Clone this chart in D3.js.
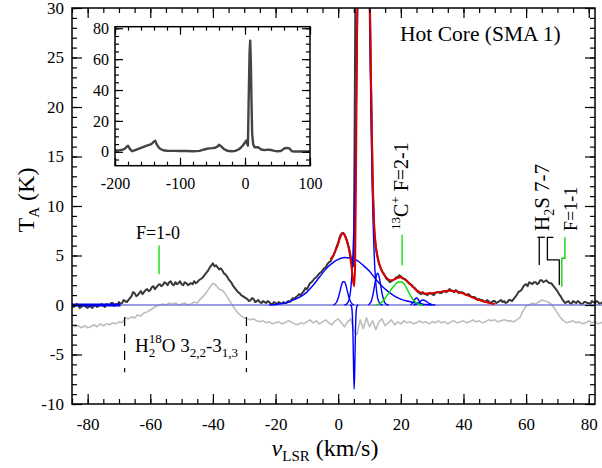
<!DOCTYPE html>
<html>
<head>
<meta charset="utf-8">
<script src="https://cdn.jsdelivr.net/npm/d3@7"></script>
<style>
  body { margin: 0; background: #fff; }
  text { font-family: "Liberation Serif", "Times New Roman", serif; fill: #000; }
</style>
</head>
<body>
<svg id="chart" width="602" height="468"></svg>
<script>
// observed spectrum, [v_LSR km/s, T_A K]
const observed = [
  [-85,0.1],[-84.5,-0.2],[-84,-0.1],[-83.5,0.1],[-83,0.0],[-82.5,-0.3],[-82,-0.2],[-81.5,0.0],[-81,-0.1],[-80.5,-0.2],
  [-80,-0.3],[-79.5,-0.1],[-79,-0.2],[-78.5,-0.3],[-78,-0.1],[-77.5,0.0],[-77,-0.2],[-76.5,-0.1],[-76,0.0],[-75.5,0.1],
  [-75,-0.1],[-74.5,-0.2],[-74,0.1],[-73.5,0.0],[-73,0.0],[-72.5,0.2],[-72,0.2],[-71.5,-0.1],[-71,0.1],[-70.5,0.0],
  [-70,0.3],[-69.5,0.1],[-69,0.2],[-68.5,0.5],[-68,0.4],[-67.5,0.3],[-67,0.5],[-66.5,0.7],[-66,0.9],[-65.5,1.3],
  [-65,1.2],[-64.5,0.9],[-64,1.0],[-63.5,1.2],[-63,1.4],[-62.5,1.1],[-62,1.3],[-61.5,1.5],[-61,1.6],[-60.5,1.4],
  [-60,1.5],[-59.5,1.8],[-59,1.9],[-58.5,1.6],[-58,1.8],[-57.5,2.0],[-57,2.1],[-56.5,1.9],[-56,2.0],[-55.5,2.3],
  [-55,2.2],[-54.5,2.0],[-54,2.3],[-53.5,2.4],[-53,2.1],[-52.5,2.0],[-52,2.3],[-51.5,2.1],[-51,2.2],[-50.5,2.4],
  [-50,2.1],[-49.5,2.0],[-49,2.3],[-48.5,2.2],[-48,2.0],[-47.5,2.1],[-47,2.2],[-46.5,2.1],[-46,2.4],[-45.5,2.2],
  [-45,2.3],[-44.5,2.5],[-44,2.6],[-43.5,2.7],[-43,2.9],[-42.5,3.1],[-42,3.3],[-41.5,3.5],[-41,3.8],[-40.5,4.0],
  [-40,4.2],[-39.5,3.9],[-39,4.0],[-38.5,3.8],[-38,3.6],[-37.5,3.7],[-37,3.5],[-36.5,3.2],[-36,3.1],[-35.5,2.9],
  [-35,2.6],[-34.5,2.4],[-34,2.2],[-33.5,1.9],[-33,1.7],[-32.5,1.5],[-32,1.3],[-31.5,1.2],[-31,1.0],[-30.5,0.9],
  [-30,0.8],[-29.5,0.7],[-29,0.6],[-28.5,0.4],[-28,0.5],[-27.5,0.7],[-27,0.6],[-26.5,0.3],[-26,0.4],[-25.5,0.5],
  [-25,0.3],[-24.5,0.2],[-24,0.4],[-23.5,0.3],[-23,0.2],[-22.5,0.4],[-22,0.3],[-21.5,0.1],[-21,0.1],[-20.5,0.3],
  [-20,0.2],[-19.5,0.1],[-19,0.3],[-18.5,0.2],[-18,0.1],[-17.5,0.3],[-17,0.2],[-16.5,0.2],[-16,0.4],[-15.5,0.3],
  [-15,0.5],[-14.5,0.7],[-14,0.6],[-13.5,0.8],[-13,0.9],[-12.5,1.1],[-12,1.0],[-11.5,1.2],[-11,1.4],[-10.5,1.7],
  [-10,1.6],[-9.5,1.9],[-9,2.2],[-8.5,2.3],[-8,2.5],[-7.5,2.7],[-7,2.8],[-6.5,3.0],[-6,3.2],[-5.5,3.3],
  [-5,3.5],[-4.5,3.7],[-4,3.8],[-3.5,4.1],[-3,4.3],[-2.5,4.4],[-2,4.7],[-1.5,5.0],[-1,5.4],[-0.5,5.9],
  [0,6.3],[0.5,6.9],[1,7.2],[1.5,7.3],[2,7.1],[2.5,6.8],[3,6.3],[3.5,5.7],[4,4.9],[4.5,4.3],
  [5,3.9],[5.5,32],[6,46],[6.5,57],[7,65],[7.5,70],[8,72],[8.5,68],[9,58],[9.5,46],
  [10,33],[10.5,22],[11,12],[11.5,7.5],[12,5.8],[12.5,4.9],[13,4.2],[13.5,3.8],[14,3.4],[14.5,3.2],
  [15,2.9],[15.5,2.6],[16,2.5],[16.5,2.3],[17,2.4],[17.5,2.5],[18,2.6],[18.5,2.8],[19,2.8],[19.5,3.0],
  [20,2.9],[20.5,2.7],[21,2.6],[21.5,2.6],[22,2.4],[22.5,2.2],[23,2.1],[23.5,2.0],[24,1.8],[24.5,1.7],
  [25,1.5],[25.5,1.3],[26,1.2],[26.5,1.1],[27,1.3],[27.5,1.1],[28,1.1],[28.5,1.0],[29,1.2],[29.5,1.2],
  [30,1.1],[30.5,1.0],[31,1.2],[31.5,1.3],[32,1.3],[32.5,1.2],[33,1.2],[33.5,1.4],[34,1.4],[34.5,1.3],
  [35,1.4],[35.5,1.6],[36,1.5],[36.5,1.4],[37,1.3],[37.5,1.5],[38,1.4],[38.5,1.2],[39,1.3],[39.5,1.3],
  [40,1.2],[40.5,1.1],[41,1.0],[41.5,1.1],[42,1.0],[42.5,0.8],[43,0.8],[43.5,0.8],[44,0.7],[44.5,0.5],
  [45,0.6],[45.5,0.5],[46,0.5],[46.5,0.4],[47,0.3],[47.5,0.5],[48,0.4],[48.5,0.2],[49,0.3],[49.5,0.4],
  [50,0.4],[50.5,0.2],[51,0.3],[51.5,0.4],[52,0.5],[52.5,0.3],[53,0.4],[53.5,0.2],[54,0.3],[54.5,0.5],
  [55,0.5],[55.5,0.4],[56,0.6],[56.5,0.8],[57,1.0],[57.5,1.3],[58,1.4],[58.5,1.5],[59,1.8],[59.5,2.0],
  [60,2.1],[60.5,1.9],[61,2.3],[61.5,2.2],[62,2.1],[62.5,2.3],[63,2.3],[63.5,2.1],[64,2.2],[64.5,2.5],
  [65,2.5],[65.5,2.3],[66,2.4],[66.5,2.5],[67,2.3],[67.5,2.2],[68,2.2],[68.5,2.0],[69,1.8],[69.5,1.6],
  [70,1.4],[70.5,1.1],[71,0.9],[71.5,0.6],[72,0.4],[72.5,0.2],[73,0.3],[73.5,0.4],[74,0.2],[74.5,0.1],
  [75,0.4],[75.5,0.3],[76,0.2],[76.5,0.4],[77,0.3],[77.5,0.1],[78,0.1],[78.5,0.3],[79,0.3],[79.5,0.2],
  [80,0.2],[80.5,0.1],[81,0.4],[81.5,0.3],[82,0.2],[82.5,0.4],[83,0.3],[83.5,0.1],[84,0.2],[84.5,0.3],
  [85,0.3]
]

// residual (offset by -2 K), one value per 1 km/s channel from -85 to 85
const residualVel = d3.range(-85, 86)
const residualTa = [
  -2.0,-2.2,-2.1,-2.3,-2.1,-2.3,-2.2,-2.0,-2.2,-1.9,
  -2.1,-1.9,-2.0,-1.8,-1.9,-1.7,-1.8,-1.3,-1.4,-1.2,
  -1.3,-1.0,-1.1,-0.8,-0.7,-0.5,-0.3,-0.1,0.0,0.1,
  0.0,0.2,0.1,0.2,0.0,0.1,0.2,0.0,0.1,0.3,
  0.2,0.6,0.9,1.3,1.8,2.2,2.0,1.6,1.5,1.1,
  0.6,0.1,-0.4,-0.8,-1.1,-1.3,-1.4,-1.5,-1.4,-1.6,
  -1.7,-1.6,-1.8,-1.7,-1.9,-1.8,-1.7,-1.9,-1.8,-1.6,
  -1.7,-1.9,-2.0,-1.8,-1.9,-1.7,-1.5,-1.8,-1.6,-1.9,
  -1.7,-1.5,-1.8,-2.0,-1.6,-1.4,-1.8,-2.2,-1.7,-1.4,
  -2.6,-3.0,-1.5,-2.4,-1.3,-2.2,-1.6,-2.5,-1.7,-1.4,
  -2.1,-1.8,-1.5,-2.0,-1.7,-1.9,-1.6,-1.8,-1.7,-1.9,
  -1.8,-1.6,-1.8,-1.7,-1.9,-1.7,-1.8,-1.6,-1.8,-1.7,
  -1.9,-1.7,-1.6,-1.8,-1.7,-1.6,-1.8,-1.7,-1.5,-1.7,
  -1.6,-1.8,-1.7,-1.5,-1.6,-1.5,-1.7,-1.6,-1.5,-1.6,
  -1.6,-1.7,-1.5,-1.3,-0.6,-0.1,0.0,0.2,0.1,0.3,
  0.5,0.4,0.3,0.1,-0.3,-0.8,-1.3,-1.6,-1.8,-1.7,
  -1.6,-1.8,-1.7,-1.9,-1.8,-1.6,-1.8,-1.7,-1.9,-1.8,
  -1.7
]

// total fit
const fitTotal = [
  [-2.5,4.6],[-2,4.8],[-1,5.4],[0,6.2],[0.5,6.7],[1,7.1],[1.5,7.25],[2,7.1],[2.5,6.7],[3,6.2],
  [3.5,5.5],[4,4.5],[4.5,3.2],[4.8,2.3],[5.1,1.9],[5.4,4],[5.7,14],[6,27],[6.5,45],[7,60],
  [7.5,68],[8,71],[8.5,67],[9,57],[9.5,45],[10,33],[10.5,22],[11,13],[11.5,8],[12,6],
  [12.5,5.0],[13,4.3],[14,3.4],[15,2.9],[16,2.6],[17,2.5],[18,2.6],[19,2.75],[20,2.8],[21,2.65],
  [22,2.4],[23,2.1],[24,1.8],[25,1.5],[26,1.3],[27,1.2],[28,1.15],[29,1.15],[30,1.2],[31,1.25],
  [32,1.3],[33,1.35],[34,1.4],[35,1.45],[36,1.45],[37,1.4],[38,1.35],[39,1.25],[40,1.15],[41,1.0],
  [42,0.9],[43,0.75],[44,0.6],[45,0.5],[46,0.4],[47,0.3],[48,0.22],[49,0.15],[50,0.1]
]

// gaussian fit components (blue)
const compBroad = [
  [-22,0],[-20,0.05],[-18,0.15],[-16,0.3],[-14,0.55],[-12,0.85],[-10,1.3],[-8,2.0],[-6,2.8],[-4,3.6],
  [-2,4.2],[0,4.6],[2,4.8],[4,4.75],[6,4.5],[8,4.0],[10,3.4],[12,2.6],[14,1.9],[16,1.35],
  [18,0.9],[20,0.6],[22,0.4],[24,0.25],[26,0.15],[28,0.05],[30,0]
]
const compNarrow = [
  [-1.5,0],[-1,0.1],[-0.5,0.3],[0,0.7],[0.5,1.3],[1,1.95],[1.5,2.35],[2,2.35],[2.5,1.95],[3,1.3],
  [3.5,0.7],[4,0.3],[4.5,0.1],[5,0]
]
const compAbsorb = [
  [3.8,0],[4.2,-0.1],[4.5,-0.9],[4.7,-2.8],[4.9,-6.2],[5.1,-8.5],[5.3,-6.2],[5.5,-2.8],[5.7,-0.9],[6.0,-0.1],[6.4,0]
]
const compMain = [
  [2,0],[2.6,0.07],[3.1,0.26],[3.6,0.7],[4.1,1.9],[4.6,4.3],[5.1,9.0],[5.6,16.5],[6.1,27],[6.6,40],
  [7.1,52.8],[7.6,62.4],[8.1,66],[8.6,62.4],[9.1,52.8],[9.6,40],[10.1,27],[10.6,16.5],[11.1,9.0],[11.6,4.3],
  [12.1,1.9],[12.6,0.7],[13.1,0.26],[13.6,0.07],[14.2,0]
]
const compRed12 = [
  [9.6,0.04],[10.1,0.14],[10.6,0.43],[11.1,1.04],[11.6,1.94],[12.1,2.82],[12.6,3.2],[13.1,2.82],[13.6,1.94],[14.1,1.04],
  [14.6,0.43],[15.1,0.14],[15.6,0.04],[16.2,0]
]
const compSmall1 = [[23,0.03],[23.5,0.12],[24,0.32],[24.5,0.58],[25,0.7],[25.5,0.58],[26,0.32],[26.5,0.12],[27,0.03],[27.5,0]]
const compSmall2 = [[24,0.02],[25,0.09],[26,0.3],[27,0.5],[28,0.4],[29,0.16],[30,0.04],[31,0]]
// 13C+ F=2-1 component (green)
const comp13C = [
  [12,0],[13,0.1],[14,0.3],[15,0.7],[16,1.15],[17,1.6],[18,2.0],[19,2.3],[20,2.35],[21,2.15],
  [22,1.6],[23,1.0],[24,0.5],[25,0.2],[26,0.05],[27,0]
]
// baseline window
const baseWindow = [[-85,0],[-69.5,0]]

// line markers
const markF10 = [[-57.2,3.1],[-57.2,6.0]]
const mark13C = [[20.4,4.0],[20.4,7.1]]
const markH2Sa = [[63.6,6.84],[66.0,6.84]]
const markH2Sb = [[64.2,6.84],[64.2,4.04]]
const markH2Sc = [[68.7,6.84],[66.8,6.84],[66.8,4.55],[70.6,4.55],[70.6,2.02]]
const markF11 = [[72.4,6.84],[72.4,4.72],[71.4,4.72],[71.4,1.85]]
const h2oDashes = [-68.2, -29.3]
const h2oDashRange = [-1.2, -6.8]

// full-band spectrum for the inset
const insetSpec = [
  [-200,1.0],[-196,0.8],[-192,1.1],[-188,1.4],[-185,2.0],[-182,3.2],[-180,3.9],[-178,2.6],[-176,1.2],[-173,0.4],
  [-170,0.9],[-166,1.6],[-162,2.2],[-158,2.8],[-154,3.5],[-150,4.1],[-146,4.6],[-143,5.4],[-140,6.6],[-138,7.1],
  [-136,5.0],[-133,3.0],[-130,1.8],[-126,1.0],[-120,0.7],[-110,0.6],[-100,0.5],[-90,0.5],[-80,0.4],[-70,0.6],
  [-65,1.2],[-60,1.8],[-55,2.2],[-50,2.4],[-46,2.6],[-43,3.2],[-40,4.6],[-37,3.6],[-33,2.0],[-29,1.0],
  [-25,0.5],[-20,0.4],[-15,0.6],[-10,1.5],[-6,2.8],[-3,4.2],[0,6.0],[2,7.3],[4.5,4.0],[5.5,30],
  [7,64],[8,72],[9,58],[10,33],[11,12],[12.5,4.9],[15,2.9],[20,2.9],[25,1.5],[30,1.1],
  [35,1.4],[40,1.2],[45,0.6],[50,0.4],[55,0.5],[58,1.4],[61,2.3],[65,2.5],[68,2.2],[70,1.4],
  [72,0.4],[78,0.2],[85,0.3],[92,0.2],[100,0.3]
]

const xTicks = [-80, -60, -40, -20, 0, 20, 40, 60, 80]
const yTicks = [-10, -5, 0, 5, 10, 15, 20, 25, 30]
const insetXTicks = [-200, -100, 0, 100]
const insetYTicks = [0, 20, 40, 60, 80]

const svg = d3.select("#chart")
const frame = { left: 72, right: 595, top: 8, bottom: 404 }
const x = d3.scaleLinear().domain([-85, 82]).range([frame.left, frame.right])
const y = d3.scaleLinear().domain([-10, 30]).range([frame.bottom, frame.top])

svg.append("defs").append("clipPath").attr("id", "plotclip").append("rect")
  .attr("x", frame.left).attr("y", frame.top)
  .attr("width", 602 - frame.left).attr("height", frame.bottom - frame.top)

const lineOf = (xs, ys, curve) => d3.line().x(d => xs(d[0])).y(d => ys(d[1])).curve(curve || d3.curveLinear)
const mainLine = lineOf(x, y)
const smooth = lineOf(x, y, d3.curveMonotoneX)

const plot = svg.append("g").attr("clip-path", "url(#plotclip)")

const draw = (g, d, gen, color, width, dash) => g.append("path")
  .attr("d", gen(d)).attr("fill", "none").attr("stroke", color)
  .attr("stroke-width", width).attr("stroke-linejoin", "round")
  .attr("stroke-dasharray", dash || null)

// spectra
draw(plot, residualVel.map((v, i) => [v, residualTa[i]]), mainLine, "#bdbdbd", 1.6)
draw(plot, observed, mainLine, "#383838", 2)
draw(plot, [[-85, 0], [85, 0]], mainLine, "#7b7bd8", 1.6)
draw(plot, baseWindow, mainLine, "#0000ee", 3)

// fit components
;[compBroad, compNarrow, compAbsorb, compMain, compRed12, compSmall1, compSmall2]
  .forEach(c => draw(plot, c, smooth, "#0000ff", 1.4))
draw(plot, comp13C, smooth, "#00dd00", 1.4)
draw(plot, fitTotal, smooth, "#dd0000", 2)

// line markers
draw(svg, markF10, mainLine, "#00dd00", 1.3)
draw(svg, mark13C, mainLine, "#00dd00", 1.3)
draw(svg, markF11, mainLine, "#00cc00", 1.3)
draw(svg, markH2Sa, mainLine, "#000", 1.3)
draw(svg, markH2Sb, mainLine, "#000", 1.3)
draw(svg, markH2Sc, mainLine, "#000", 1.3)
h2oDashes.forEach(v => draw(svg, h2oDashRange.map(t => [v, t]), mainLine, "#000", 1.2, "9,8"))

// axes with inward ticks on all sides
function ticks(g, gen, transform, values, size, labels, pad, fontSize) {
  const a = g.append("g").attr("transform", transform)
    .call(gen.tickValues(values).tickSize(-size).tickPadding(pad)
      .tickFormat(labels ? d => String(d) : ""))
  a.select(".domain").remove()
  a.selectAll("line").attr("stroke", "#000").attr("stroke-width", 1.2)
  a.attr("font-family", null).attr("font-size", null)
  a.selectAll("text").attr("font-size", fontSize)
}

function frameAxes(g, xs, ys, o) {
  const [l, r] = xs.range(), [b, t] = ys.range()
  ticks(g, d3.axisBottom(xs), `translate(0,${b})`, o.xMinor, o.minor, false, 0, 0)
  ticks(g, d3.axisTop(xs), `translate(0,${t})`, o.xMinor, o.minor, false, 0, 0)
  ticks(g, d3.axisLeft(ys), `translate(${l},0)`, o.yMinor, o.minor, false, 0, 0)
  ticks(g, d3.axisRight(ys), `translate(${r},0)`, o.yMinor, o.minor, false, 0, 0)
  ticks(g, d3.axisBottom(xs), `translate(0,${b})`, o.xMajor, o.major, true, o.xPad, o.font)
  ticks(g, d3.axisTop(xs), `translate(0,${t})`, o.xMajor, o.major, false, 0, 0)
  ticks(g, d3.axisLeft(ys), `translate(${l},0)`, o.yMajor, o.major, true, o.yPad, o.font)
  ticks(g, d3.axisRight(ys), `translate(${r},0)`, o.yMajor, o.major, false, 0, 0)
  g.append("rect").attr("x", l).attr("y", t).attr("width", r - l).attr("height", b - t)
    .attr("fill", "none").attr("stroke", "#000").attr("stroke-width", 1.5)
}

frameAxes(svg, x, y, {
  xMajor: xTicks, xMinor: d3.range(-85, 82, 5),
  yMajor: yTicks, yMinor: d3.range(-10, 31, 1),
  major: 10, minor: 5, xPad: 14, yPad: 8, font: 17
})

// inset
const ix = d3.scaleLinear().domain([-200, 100]).range([115, 310])
const iy = d3.scaleLinear().domain([-9, 81]).range([165.7, 26.7])
const inset = svg.append("g")
inset.append("rect").attr("x", 115).attr("y", 26.7).attr("width", 195).attr("height", 139).attr("fill", "#fff")
inset.append("path").attr("d", lineOf(ix, iy)(insetSpec))
  .attr("fill", "none").attr("stroke", "#444").attr("stroke-width", 2.4).attr("stroke-linejoin", "round")
frameAxes(inset, ix, iy, {
  xMajor: insetXTicks, xMinor: d3.range(-200, 101, 20),
  yMajor: insetYTicks, yMinor: d3.range(-5, 81, 5),
  major: 8, minor: 4, xPad: 12, yPad: 6, font: 16
})

// labels
svg.append("text").attr("x", 400).attr("y", 41).attr("font-size", 21.5).text("Hot Core (SMA 1)")

svg.append("text").attr("x", 158).attr("y", 239).attr("font-size", 18)
  .attr("text-anchor", "middle").text("F=1-0")

const h2o = svg.append("text").attr("x", 135).attr("y", 352).attr("font-size", 19)
h2o.append("tspan").text("H")
h2o.append("tspan").attr("font-size", 13).attr("dy", 5).text("2")
h2o.append("tspan").attr("font-size", 13).attr("dx", -6.5).attr("dy", -14).text("18")
h2o.append("tspan").attr("dy", 9).text("O 3")
h2o.append("tspan").attr("font-size", 13).attr("dy", 5).text("2,2")
h2o.append("tspan").attr("dy", -5).text("-3")
h2o.append("tspan").attr("font-size", 13).attr("dy", 5).text("1,3")

const c13 = svg.append("text").attr("transform", "translate(408,230) rotate(-90)").attr("font-size", 20)
c13.append("tspan").attr("font-size", 13).attr("dy", -8).text("13")
c13.append("tspan").attr("dy", 8).text("C")
c13.append("tspan").attr("font-size", 13).attr("dy", -8).text("+")
c13.append("tspan").attr("dy", 8).text(" F=2-1")

const h2s = svg.append("text").attr("transform", "translate(549,231) rotate(-90)").attr("font-size", 21)
h2s.append("tspan").text("H")
h2s.append("tspan").attr("font-size", 14).attr("dy", 5).text("2")
h2s.append("tspan").attr("dy", -5).text("S 7-7")

svg.append("text").attr("transform", "translate(577,231) rotate(-90)").attr("font-size", 18).text("F=1-1")

// axis titles
const yt = svg.append("text").attr("transform", "translate(34,200) rotate(-90)")
  .attr("text-anchor", "middle").attr("font-size", 24)
yt.append("tspan").text("T")
yt.append("tspan").attr("font-size", 15).attr("dy", 5).text("A")
yt.append("tspan").attr("dy", -5).text(" (K)")

const xt = svg.append("text").attr("x", 325).attr("y", 456)
  .attr("text-anchor", "middle").attr("font-size", 24)
xt.append("tspan").attr("font-style", "italic").text("v")
xt.append("tspan").attr("font-size", 15).attr("dy", 5).text("LSR")
xt.append("tspan").attr("dy", -5).text(" (km/s)")
</script>
</body>
</html>
